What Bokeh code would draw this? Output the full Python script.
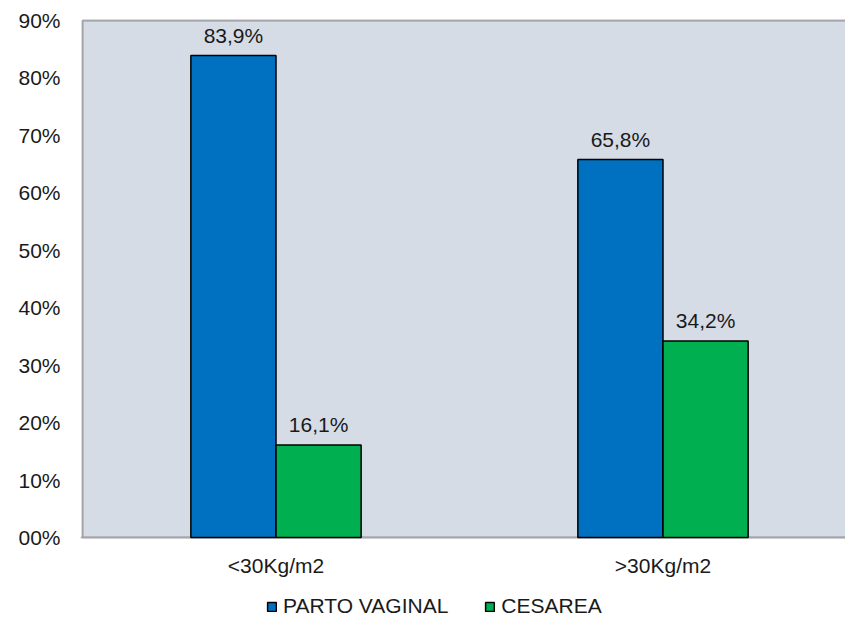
from bokeh.plotting import figure
from bokeh.models import (Range1d, FixedTicker, Legend, LegendItem, Span,
                          ColumnDataSource, LabelSet, BoxAnnotation)
from bokeh.core.properties import value
from bokeh.embed import file_html
from bokeh.resources import INLINE

categories = ["<30Kg/m2", ">30Kg/m2"]
parto_vaginal = [0.839, 0.658]
cesarea = [0.161, 0.342]
series_names = ["PARTO VAGINAL", "CESAREA"]
y_ticks = [0.0, 0.1, 0.2, 0.3, 0.4, 0.5, 0.6, 0.7, 0.8, 0.9]
y_tick_labels = ["00%", "10%", "20%", "30%", "40%", "50%", "60%", "70%", "80%", "90%"]
y_max = 0.9

FONT = "Liberation Sans"
FS = "21px"
BLUE = "#0070C0"
GREEN = "#00B050"
TXT = "#1a1a1a"
PLOT_BG = "#D6DCE5"

centers = [i + 0.5 for i in range(len(categories))]
bar_w = 0.22

# frame extends below the plot area so the legend can sit inside it
p = figure(width=845, height=625, output_backend="svg", toolbar_location=None,
           x_axis_location=None,
           x_range=Range1d(-0.00517, 1.9716), y_range=Range1d(-0.1532, 0.90348),
           min_border_left=80, min_border_top=18, min_border_right=0,
           min_border_bottom=0)
p.outline_line_color = None
p.background_fill_color = "white"
p.border_fill_color = "white"
p.xgrid.visible = False
p.ygrid.visible = False

# plot area (grey, black border top/left; right side runs off the picture)
area = BoxAnnotation(left=0, right=2.2, bottom=0, top=y_max, fill_color=PLOT_BG,
                     fill_alpha=1, line_color="black", line_width=2, level="underlay")
p.add_layout(area)
# category axis line
p.add_layout(Span(location=0, dimension="width", line_color="#A6A6A6",
                  line_width=1.5, level="underlay"))

def fmt(v):
    return ("%.1f%%" % (v * 100)).replace(".", ",")

src_pv = ColumnDataSource(dict(x=[c - bar_w / 2 for c in centers], top=parto_vaginal,
                               lab=[fmt(v) for v in parto_vaginal]))
src_ce = ColumnDataSource(dict(x=[c + bar_w / 2 for c in centers], top=cesarea,
                               lab=[fmt(v) for v in cesarea]))
src_cat = ColumnDataSource(dict(x=centers, y=[0] * len(centers), lab=categories))

r1 = p.vbar(x="x", top="top", width=bar_w, source=src_pv, fill_color=BLUE,
            line_color="black", line_width=1.5)
r2 = p.vbar(x="x", top="top", width=bar_w, source=src_ce, fill_color=GREEN,
            line_color="black", line_width=1.5)

for src in (src_pv, src_ce):
    p.add_layout(LabelSet(x="x", y="top", text="lab", source=src, text_align="center",
                          text_baseline="bottom", y_offset=9, text_font=value(FONT),
                          text_font_size=FS, text_color=TXT))

# category labels
p.add_layout(LabelSet(x="x", y="y", text="lab", source=src_cat, text_align="center",
                      text_baseline="top", y_offset=-17, text_font=value(FONT),
                      text_font_size=FS, text_color=TXT))

# y axis
ya = p.yaxis[0]
ya.ticker = FixedTicker(ticks=y_ticks)
ya.major_label_overrides = {t: l for t, l in zip(y_ticks, y_tick_labels)}
ya.major_tick_line_color = None
ya.minor_tick_line_color = None
ya.major_tick_out = 0
ya.major_tick_in = 0
ya.axis_line_color = None
ya.major_label_text_font = FONT
ya.major_label_text_font_size = FS
ya.major_label_text_color = TXT
ya.major_label_standoff = 20

legend = Legend(items=[LegendItem(label=series_names[0], renderers=[r1]),
                       LegendItem(label=series_names[1], renderers=[r2])],
                orientation="horizontal", location=(186, 7),
                label_text_font=FONT, label_text_font_size=FS,
                label_text_color=TXT, glyph_width=11, glyph_height=11,
                label_standoff=6, spacing=36,
                border_line_color=None, background_fill_alpha=0,
                padding=0, margin=0)
p.add_layout(legend, "center")

open("out.html", "w").write(file_html(p, INLINE))
